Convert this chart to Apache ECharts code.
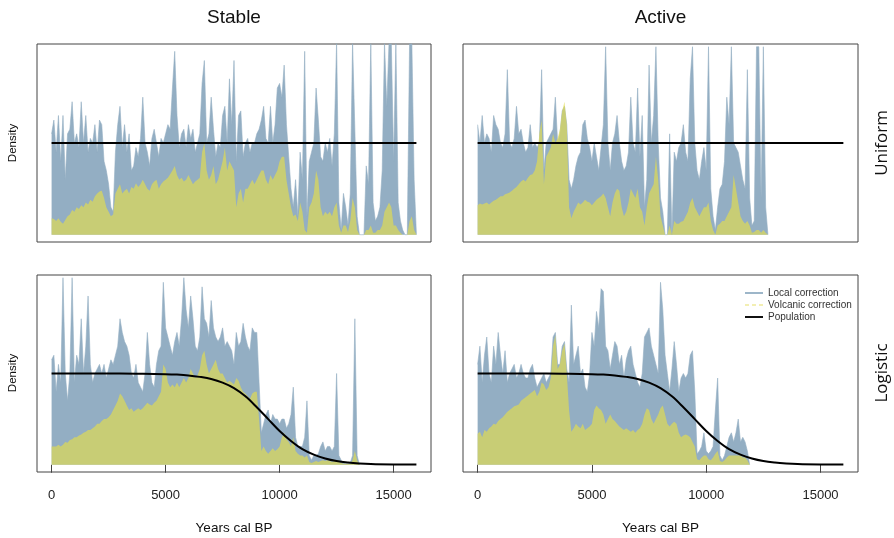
<!DOCTYPE html>
<html><head><meta charset="utf-8">
<script src="https://cdn.jsdelivr.net/npm/echarts@6/dist/echarts.min.js"></script>
<style>html,body{margin:0;padding:0;background:#fff}#c{width:894px;height:538px}</style>
</head><body><div id="c"></div>
<script>
// ---- data (years cal BP, sampled every 100 years from 0) ----
const yearStart = 0;
const yearStep = 100;
const columnTitles = ['Stable', 'Active'];
const rowTitles = ['Uniform', 'Logistic'];
const xTickValues = [0, 5000, 10000, 15000];

const stableUniformLocal = [1.1,1.25,0.9,1.3,0.8,1.3,0.6,1.1,1.15,1.45,
 1.0,1.1,0.95,1.45,1.0,1.3,0.9,1.05,1.0,1.2,
 0.9,1.25,1.2,0.8,0.7,0.55,0.3,0.25,0.9,1.2,
 1.4,0.95,1.2,0.9,1.1,0.7,0.75,0.95,0.85,1.05,
 1.5,1.0,0.9,0.75,1.05,1.15,1.0,0.85,1.05,1.0,
 1.1,1.2,1.15,1.6,2.0,1.3,0.95,1.1,1.15,0.95,
 1.2,1.05,1.15,0.9,1.0,1.1,1.65,1.9,1.0,1.1,
 1.5,1.15,0.85,1.0,0.95,1.3,1.4,1.0,1.7,1.2,
 1.9,0.8,1.3,1.35,0.85,1.0,1.05,0.9,1.0,1.0,
 1.1,1.15,1.25,1.4,1.05,1.0,1.4,1.0,1.2,1.6,
 1.65,1.5,1.85,1.2,0.85,0.5,0.3,0.6,0.2,0.9,
 0.6,2.0,0.2,0.8,0.9,1.0,1.6,1.25,0.85,0.8,
 1.0,0.9,1.05,0.75,1.1,2.1,0.35,0.05,0.45,0.3,
 0.1,0.45,2.1,1.15,0.2,0,0,0,0.75,0.55,
 2.1,0.35,0.15,0.2,0.3,0.7,2.1,1.4,2.1,2.1,
 0.8,2.1,0.35,0.15,0.05,0,0,2.1,2.1,0.6,0];
const stableUniformVolcanic = [0.18,0.17,0.15,0.18,0.14,0.12,0.16,0.2,0.22,0.27,
 0.25,0.3,0.28,0.32,0.3,0.35,0.33,0.38,0.36,0.42,
 0.45,0.47,0.48,0.4,0.3,0.25,0.2,0.22,0.45,0.5,
 0.55,0.45,0.48,0.5,0.45,0.52,0.5,0.56,0.52,0.55,
 0.6,0.55,0.5,0.48,0.55,0.58,0.6,0.5,0.55,0.58,
 0.6,0.62,0.66,0.7,0.75,0.65,0.6,0.62,0.58,0.6,
 0.65,0.6,0.55,0.58,0.6,0.62,0.9,1.0,0.7,0.6,
 0.65,0.75,0.55,0.6,0.7,0.8,0.95,0.7,0.8,0.75,
 0.7,0.3,0.45,0.5,0.35,0.5,0.5,0.55,0.6,0.55,
 0.6,0.65,0.7,0.7,0.6,0.55,0.65,0.6,0.65,0.7,
 0.8,0.85,0.85,0.6,0.45,0.3,0.2,0.22,0.15,0.35,
 0.25,0.05,0.02,0.3,0.35,0.45,0.7,0.6,0.3,0.2,
 0.25,0.22,0.25,0.2,0.3,0.35,0.1,0.02,0.1,0.1,
 0.03,0.15,0.4,0.3,0.05,0,0,0,0.05,0.05,
 0.1,0.02,0.02,0.05,0.05,0.1,0.25,0.3,0.35,0.3,
 0.1,0.1,0.05,0.02,0,0,0,0.15,0.2,0.05,0];

const activeUniformLocal = [1.2,1.0,1.3,1.0,1.1,1.05,0.9,1.3,1.2,1.15,
 1.0,0.95,1.1,1.8,1.0,0.95,1.05,1.4,1.1,1.15,
 1.0,0.9,0.95,1.2,0.95,1.0,0.95,1.0,1.8,0.7,
 1.0,1.05,1.1,1.15,1.5,1.0,1.1,1.35,1.4,1.2,
 0.6,0.5,0.6,0.75,0.85,0.9,1.2,1.25,1.05,0.95,
 0.8,1.0,0.85,0.7,0.95,1.2,2.05,1.0,0.7,1.0,
 1.1,1.3,1.0,0.8,0.7,0.75,0.9,1.5,1.0,0.9,
 1.6,0.85,1.3,0.3,0.6,1.85,1.0,1.3,2.05,1.0,
 0.4,0.25,0,0,1.1,0,0.9,0.8,0.95,1.0,
 1.2,0.9,0.8,1.7,2.05,1.0,0.7,0.6,0.8,0.95,
 0.7,2.05,0.5,0.2,0.05,0.3,0.5,0.55,0.8,1.5,
 1.2,2.05,1.0,0.95,0.9,0.75,0.6,0.5,1.8,0.4,
 0.1,0.15,2.05,2.05,0.4,2.05,0.3,0];
const activeUniformVolcanic = [0.32,0.34,0.33,0.34,0.35,0.33,0.35,0.37,0.38,0.4,
 0.42,0.42,0.44,0.45,0.46,0.48,0.5,0.52,0.55,0.58,
 0.6,0.58,0.62,0.65,0.66,0.7,0.8,1.1,1.25,0.55,
 0.85,0.9,0.95,1.1,1.0,1.05,1.15,1.35,1.45,1.2,
 0.3,0.18,0.25,0.3,0.35,0.33,0.35,0.38,0.36,0.35,
 0.32,0.35,0.38,0.4,0.42,0.45,0.4,0.3,0.2,0.35,
 0.45,0.5,0.48,0.3,0.2,0.25,0.35,0.5,0.45,0.4,
 0.5,0.3,0.25,0.1,0.3,0.45,0.5,0.55,0.85,0.6,
 0.2,0.1,0,0,0.1,0,0.15,0.12,0.12,0.14,
 0.15,0.2,0.25,0.35,0.4,0.3,0.25,0.2,0.25,0.3,
 0.3,0.35,0.15,0.05,0,0.1,0.12,0.15,0.15,0.2,
 0.25,0.3,0.65,0.5,0.35,0.2,0.15,0.12,0.15,0.1,
 0.02,0.03,0.05,0.05,0.02,0.05,0.02,0];

const stableLogisticLocal = [1.15,1.2,0.8,1.1,0.9,2.05,1.0,0.7,1.0,2.05,
 0.9,1.2,1.1,1.6,1.0,1.3,1.85,1.1,0.9,1.0,
 1.05,1.1,1.0,1.1,0.95,1.05,1.15,1.1,1.2,1.3,
 1.6,1.45,1.35,1.3,1.2,1.0,0.95,1.1,0.9,0.85,
 0.8,1.0,1.45,1.1,0.9,0.85,1.1,1.25,1.3,2.0,
 1.5,1.4,1.3,1.2,1.35,1.45,1.3,1.6,2.05,1.7,
 1.5,1.85,1.6,1.3,1.25,1.4,1.95,1.6,1.55,1.4,
 1.8,1.5,1.4,1.35,1.4,1.5,1.3,1.35,1.3,1.25,
 1.1,1.45,1.3,1.35,1.55,1.4,1.3,1.25,1.5,1.45,
 1.45,0.9,0.35,0.45,0.55,0.6,0.45,0.55,0.5,0.5,
 0.45,0.5,0.5,0.4,0.45,0.55,0.85,0.3,0.2,0.2,
 0.2,0.3,0.7,0.1,0.05,0.1,0.1,0.12,0.2,0.25,
 0.15,0.2,0.2,0.15,0.2,1.0,0.1,0.05,0.02,0.01,
 0.01,0.02,0.1,1.6,0.1,0];
const stableLogisticVolcanic = [0.2,0.2,0.2,0.22,0.2,0.22,0.25,0.24,0.27,0.28,
 0.3,0.3,0.32,0.33,0.35,0.36,0.38,0.38,0.4,0.42,
 0.45,0.45,0.48,0.5,0.5,0.52,0.55,0.6,0.65,0.7,
 0.78,0.75,0.7,0.65,0.6,0.62,0.58,0.6,0.62,0.6,
 0.62,0.65,0.68,0.66,0.65,0.68,0.7,0.75,0.8,1.1,
 1.05,0.9,0.85,0.88,0.85,0.9,0.85,0.9,0.95,0.9,
 0.95,1.05,1.0,0.95,0.98,1.05,1.2,1.25,1.1,1.0,
 1.05,1.1,1.15,1.05,1.0,1.0,0.95,0.9,0.92,0.9,
 0.88,0.95,0.92,0.85,0.8,0.78,0.75,0.72,0.78,0.8,
 0.8,0.5,0.15,0.2,0.15,0.12,0.15,0.18,0.15,0.17,
 0.2,0.3,0.35,0.28,0.25,0.2,0.3,0.15,0.12,0.1,
 0.1,0.08,0.1,0.03,0.02,0.03,0.04,0.03,0.04,0.05,
 0.04,0.05,0.04,0.03,0.04,0.05,0.03,0.02,0.01,0.01,
 0.01,0.01,0.05,0.15,0.05,0];

const activeLogisticLocal = [1.1,1.3,0.9,1.2,1.4,1.0,0.9,1.3,1.1,1.45,
 1.2,1.0,1.25,0.9,1.0,1.05,1.1,0.95,1.0,1.1,
 1.0,0.95,0.95,1.05,1.1,0.95,0.85,0.9,0.95,1.0,
 0.9,0.95,1.0,1.4,1.45,1.1,1.1,1.3,1.35,1.05,
 0.9,1.75,1.1,1.2,1.3,1.0,1.05,0.85,0.8,1.0,
 1.45,1.3,1.68,1.5,1.93,1.9,1.3,1.25,1.05,1.2,
 1.35,1.3,1.1,1.2,0.95,1.15,1.25,1.3,1.1,1.0,
 0.9,0.85,1.0,1.4,1.45,1.5,1.3,1.2,1.1,1.0,
 2.0,1.7,1.2,1.0,0.8,1.05,1.35,1.1,0.8,0.95,
 1.0,0.95,1.0,1.2,1.25,0.8,0.12,0.15,0.2,0.35,
 0.15,0.12,0.15,0.2,0.6,0.95,0.1,0.05,0.1,0.2,
 0.3,0.35,0.25,0.35,0.5,0.25,0.3,0.25,0.15,0];
const activeLogisticVolcanic = [0.34,0.36,0.3,0.38,0.36,0.4,0.42,0.45,0.44,0.48,
 0.5,0.52,0.55,0.58,0.6,0.62,0.64,0.65,0.66,0.7,
 0.72,0.74,0.76,0.78,0.8,0.82,0.75,0.8,0.9,0.88,
 0.82,0.85,0.95,1.3,1.42,1.05,1.1,1.25,1.33,1.0,
 0.6,0.36,0.4,0.45,0.42,0.4,0.45,0.38,0.4,0.42,
 0.45,0.6,0.65,0.62,0.6,0.55,0.45,0.5,0.55,0.5,
 0.48,0.45,0.42,0.4,0.38,0.4,0.38,0.36,0.38,0.35,
 0.38,0.4,0.45,0.55,0.62,0.6,0.5,0.45,0.5,0.55,
 0.62,0.65,0.55,0.45,0.42,0.45,0.47,0.45,0.35,0.3,
 0.32,0.33,0.32,0.3,0.25,0.2,0.06,0.05,0.08,0.1,
 0.1,0.06,0.05,0.08,0.12,0.15,0.04,0.03,0.05,0.08,
 0.1,0.1,0.1,0.1,0.1,0.1,0.08,0.08,0.05,0];

const popUniformYears = [0, 16000];
const popUniform = [1, 1];
const popLogisticYears = [0,1000,2000,3000,4000,5000,5500,6000,6500,7000,7500,8000,8500,9000,9500,10000,10500,11000,11500,12000,12500,13000,13500,14000,15000,16000];
const popLogistic = [1,1,1,1,0.997,0.993,0.988,0.979,0.963,0.94,0.9,0.84,0.75,0.63,0.5,0.37,0.26,0.17,0.11,0.068,0.04,0.024,0.014,0.008,0.003,0.001];

// ---- build ----
const BLUE = '#93aec3';
const YELLOW = 'rgba(226,219,80,0.68)';
function byIndex(vals){ return vals.map((v,i)=>[yearStart + i*yearStep, v]); }
function byYears(ys, vals){ return vals.map((v,i)=>[ys[i], v]); }

const panels = [
  {local: stableUniformLocal, volc: stableUniformVolcanic, py: popUniformYears, pv: popUniform, bottom:false},
  {local: activeUniformLocal, volc: activeUniformVolcanic, py: popUniformYears, pv: popUniform, bottom:false},
  {local: stableLogisticLocal, volc: stableLogisticVolcanic, py: popLogisticYears, pv: popLogistic, bottom:true},
  {local: activeLogisticLocal, volc: activeLogisticVolcanic, py: popLogisticYears, pv: popLogistic, bottom:true}
];
const grids = [
  {left:37, top:44, width:394, height:198},
  {left:463, top:44, width:395, height:198},
  {left:37, top:275, width:394, height:197},
  {left:463, top:275, width:395, height:197}
];
const FONT = 'Liberation Sans, Arial, sans-serif';

const option = {
  animation: false,
  backgroundColor: '#fff',
  grid: grids.map(g => Object.assign({show:true, borderColor:'#444', borderWidth:1, backgroundColor:'transparent'}, g)),
  xAxis: panels.map((p,i) => ({
    type:'value', gridIndex:i, min:-640, max:16640,
    axisLine:{show:false}, splitLine:{show:false},
    axisTick:{show:p.bottom, customValues:xTickValues, length:8, lineStyle:{color:'#444', width:1}},
    axisLabel:{show:p.bottom, customValues:xTickValues, margin:17, fontSize:13, color:'#222', fontFamily:FONT,
      formatter: v => String(v)}
  })),
  yAxis: panels.map((p,i) => ({
    type:'value', gridIndex:i, min:-0.08, max:2.08,
    axisLine:{show:false}, axisTick:{show:false}, axisLabel:{show:false}, splitLine:{show:false}
  })),
  legend: {
    orient:'vertical', left:739, top:283, itemWidth:18, itemHeight:9, itemGap:2,
    selectedMode:false,
    textStyle:{fontSize:10, color:'#333', fontFamily:FONT},
    data:[
      {name:'Local correction', itemStyle:{opacity:0}, lineStyle:{color:'#9db6c9', width:2, type:'solid', opacity:1}},
      {name:'Volcanic correction', itemStyle:{opacity:0}, lineStyle:{color:'#f0ea9a', width:1.5, type:[4,3], opacity:1}},
      {name:'Population', itemStyle:{opacity:0}, lineStyle:{color:'#111', width:2, type:'solid', opacity:1}}
    ]
  },
  series: [],
  graphic: []
};

panels.forEach((p,i) => {
  option.series.push({
    type:'line', name:'Local correction', xAxisIndex:i, yAxisIndex:i, data:byIndex(p.local),
    symbol:'none', z:2, clip:true,
    lineStyle:{color:BLUE, width:0.6}, itemStyle:{color:BLUE}, areaStyle:{color:BLUE, opacity:1}
  });
  option.series.push({
    type:'line', name:'Volcanic correction', xAxisIndex:i, yAxisIndex:i, data:byIndex(p.volc),
    symbol:'none', z:3, clip:true,
    lineStyle:{color:YELLOW, width:0}, itemStyle:{color:YELLOW}, areaStyle:{color:YELLOW, opacity:1}
  });
  option.series.push({
    type:'line', name:'Population', xAxisIndex:i, yAxisIndex:i, data:byYears(p.py, p.pv),
    symbol:'none', z:4, clip:true, smooth: p.pv.length > 2 ? 0.35 : false,
    lineStyle:{color:'#000', width:2}, itemStyle:{color:'#000'}
  });
});

function txt(x, y, s, size, rot, family){
  return {type:'text', x:x, y:y, rotation:rot||0, silent:true,
    style:{text:s, fontSize:size, fontFamily:family||FONT, fill:'#111', textAlign:'center', textVerticalAlign:'middle'}};
}
const colCenters = [234, 660.5];
const rowCenters = [143, 373];
columnTitles.forEach((t,c) => option.graphic.push(txt(colCenters[c], 18, t, 19)));
rowTitles.forEach((t,r) => option.graphic.push(txt(882, rowCenters[r], t, 17, Math.PI/2, 'Open Sans, DejaVu Sans, sans-serif')));
rowCenters.forEach(y => option.graphic.push(txt(13, y, 'Density', 11.5, Math.PI/2)));
colCenters.forEach(x => option.graphic.push(txt(x, 528, 'Years cal BP', 13.5)));

const chart = echarts.init(document.getElementById('c'), null, {renderer:'canvas'});
chart.setOption(option);
</script>
</body></html>
